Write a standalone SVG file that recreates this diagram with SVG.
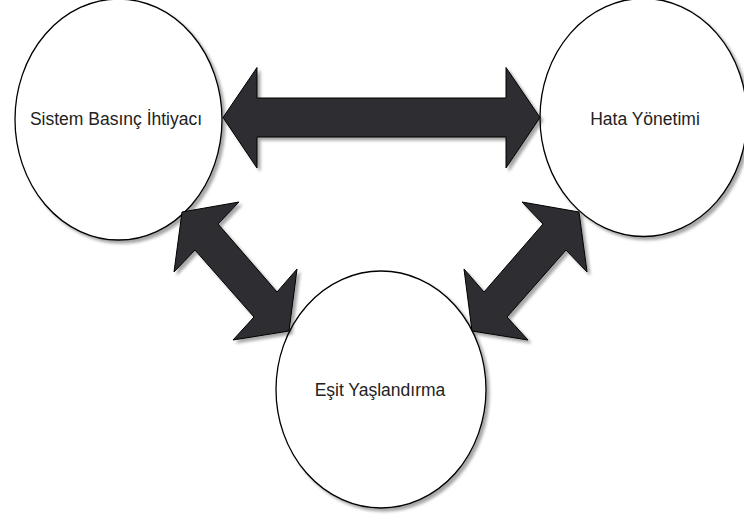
<svg xmlns="http://www.w3.org/2000/svg" width="744" height="517" viewBox="0 0 744 517">
<defs>
<filter id="sh" x="-10%" y="-10%" width="130%" height="130%">
<feDropShadow dx="3" dy="3" stdDeviation="1.6" flood-color="#000" flood-opacity="0.35"/>
</filter>
</defs>
<style>
.node{fill:#fff;stroke:#000;stroke-width:1.3;filter:url(#sh)}
.lbl{font-family:"Liberation Sans",Arial,sans-serif;font-size:17.5px;fill:#222;text-anchor:middle}
.arr{fill:#2e2f33;stroke:#000;stroke-width:1;stroke-linejoin:miter;filter:url(#sh)}
</style>
<rect width="744" height="517" fill="#fff"/>
<g id="node-sistem">
<ellipse class="node" cx="118.5" cy="119.5" rx="103.5" ry="120.5"/>
<text class="lbl" x="116" y="125">Sistem Basınç İhtiyacı</text>
</g>
<g id="node-hata">
<ellipse class="node" cx="643.5" cy="117.5" rx="103.5" ry="119"/>
<text class="lbl" x="645" y="125">Hata Yönetimi</text>
</g>
<g id="node-esit">
<ellipse class="node" cx="381" cy="389.5" rx="105" ry="118.5"/>
<text class="lbl" x="380" y="396">Eşit Yaşlandırma</text>
</g>
<g id="connectors">
<polygon class="arr" points="223,117.5 257,67.5 257,98 506,98 506,67.5 540,117.5 506,168 506,137 257,137 257,168"/>
<polygon class="arr" points="182,212 239,202 218,224 277,292 297,269 289,331 233,340 254,317 195,250 174,272"/>
<polygon class="arr" points="579,212 522,202 543,224 484,292 464,269 472,331 528,340 507,317 566,250 587,272"/>
</g>
</svg>
